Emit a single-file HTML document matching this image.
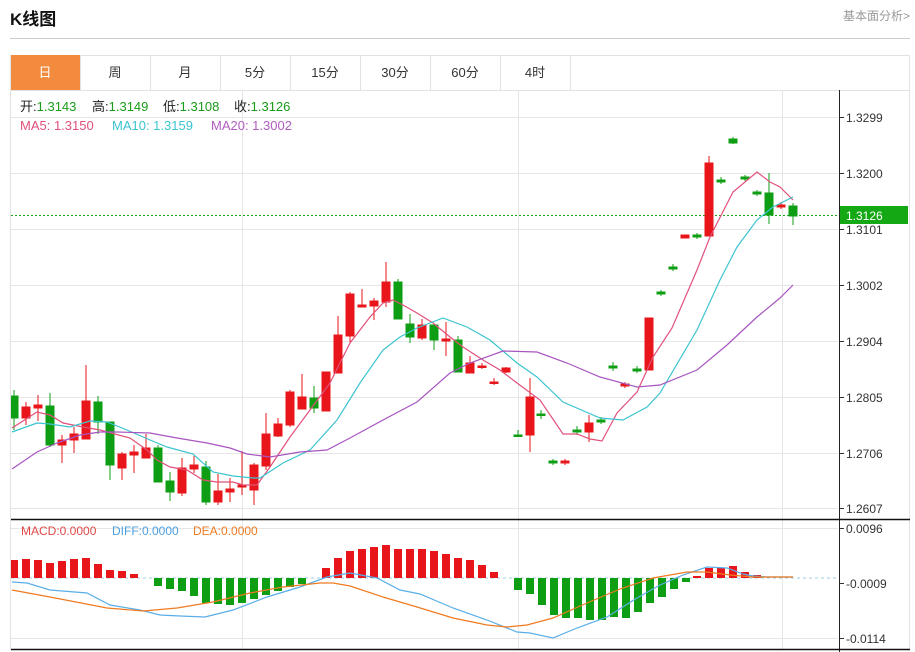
<!DOCTYPE html>
<html><head><meta charset="utf-8"><style>
body{margin:0;background:#fff;width:915px;height:652px;overflow:hidden;font-family:"Liberation Sans","Noto Sans CJK SC",sans-serif}
svg{position:absolute;left:0;top:0}
</style></head><body>
<svg width="915" height="652" viewBox="0 0 915 652" font-family="Liberation Sans, Noto Sans CJK SC, sans-serif">
<text x="10" y="25" font-size="17" font-weight="bold" fill="#111">K线图</text>
<text x="910" y="20" font-size="12" fill="#999" text-anchor="end">基本面分析&gt;</text>
<line x1="10" y1="38.5" x2="910" y2="38.5" stroke="#ccc"/>
<rect x="10.5" y="55.5" width="899" height="594" fill="none" stroke="#e2e2e2"/>
<rect x="11" y="55" width="69" height="35" fill="#f28b3d"/>
<g stroke="#e2e2e2"><line x1="10" y1="90.5" x2="910" y2="90.5"/>
<line x1="80.5" y1="55" x2="80.5" y2="90"/><line x1="150.5" y1="55" x2="150.5" y2="90"/><line x1="220.5" y1="55" x2="220.5" y2="90"/><line x1="290.5" y1="55" x2="290.5" y2="90"/><line x1="360.5" y1="55" x2="360.5" y2="90"/><line x1="430.5" y1="55" x2="430.5" y2="90"/><line x1="500.5" y1="55" x2="500.5" y2="90"/><line x1="570.5" y1="55" x2="570.5" y2="90"/></g>
<g font-size="13" text-anchor="middle" fill="#333">
<text x="45" y="77" fill="#fff">日</text><text x="115" y="77">周</text><text x="185" y="77">月</text><text x="255" y="77">5分</text><text x="325" y="77">15分</text><text x="395" y="77">30分</text><text x="465" y="77">60分</text><text x="535" y="77">4时</text></g>
<g stroke="#e6e6e6">
<line x1="11" y1="117.5" x2="838" y2="117.5"/><line x1="11" y1="173.5" x2="838" y2="173.5"/><line x1="11" y1="229.5" x2="838" y2="229.5"/><line x1="11" y1="285.5" x2="838" y2="285.5"/><line x1="11" y1="341.5" x2="838" y2="341.5"/><line x1="11" y1="397.5" x2="838" y2="397.5"/><line x1="11" y1="453.5" x2="838" y2="453.5"/><line x1="11" y1="508.5" x2="838" y2="508.5"/>
<line x1="11" y1="528.5" x2="838" y2="528.5"/><line x1="11" y1="638.5" x2="838" y2="638.5"/>
<line x1="242.5" y1="90" x2="242.5" y2="649"/><line x1="518.5" y1="90" x2="518.5" y2="649"/><line x1="782.5" y1="90" x2="782.5" y2="649"/>
</g>
<line x1="839.5" y1="90" x2="839.5" y2="652" stroke="#222"/>
<line x1="11" y1="519.5" x2="910" y2="519.5" stroke="#111" stroke-width="1.5"/>
<line x1="11" y1="649.5" x2="910" y2="649.5" stroke="#111" stroke-width="1.5"/>
<g font-size="12" fill="#333">
<g stroke="#333"><line x1="840" y1="117.5" x2="844" y2="117.5"/><line x1="840" y1="173.5" x2="844" y2="173.5"/><line x1="840" y1="229.5" x2="844" y2="229.5"/><line x1="840" y1="285.5" x2="844" y2="285.5"/><line x1="840" y1="341.5" x2="844" y2="341.5"/><line x1="840" y1="397.5" x2="844" y2="397.5"/><line x1="840" y1="453.5" x2="844" y2="453.5"/><line x1="840" y1="508.5" x2="844" y2="508.5"/><line x1="840" y1="528.5" x2="844" y2="528.5"/><line x1="840" y1="583.5" x2="844" y2="583.5"/><line x1="840" y1="638.5" x2="844" y2="638.5"/></g>
<text x="846" y="122">1.3299</text><text x="846" y="178">1.3200</text><text x="846" y="234">1.3101</text><text x="846" y="290">1.3002</text><text x="846" y="346">1.2904</text><text x="846" y="402">1.2805</text><text x="846" y="458">1.2706</text><text x="846" y="513">1.2607</text>
<text x="846" y="533">0.0096</text><text x="846" y="588">-0.0009</text><text x="846" y="643">-0.0114</text>
</g>
<line x1="11" y1="215.5" x2="838" y2="215.5" stroke="#1aa81a" stroke-dasharray="2,2"/>
<rect x="840" y="206" width="68" height="18" fill="#14a814"/>
<text x="846" y="220" font-size="12" fill="#fff">1.3126</text>
<g font-size="13">
<text x="20" y="111" fill="#222">开:<tspan fill="#1a9a1a">1.3143</tspan></text>
<text x="92" y="111" fill="#222">高:<tspan fill="#1a9a1a">1.3149</tspan></text>
<text x="163" y="111" fill="#222">低:<tspan fill="#1a9a1a">1.3108</tspan></text>
<text x="234" y="111" fill="#222">收:<tspan fill="#1a9a1a">1.3126</tspan></text>
<text x="20" y="130" fill="#e0507a">MA5: 1.3150</text>
<text x="112" y="130" fill="#3cc4d0">MA10: 1.3159</text>
<text x="211" y="130" fill="#b05cc0">MA20: 1.3002</text>
</g>
<g font-size="12">
<text x="21" y="535" fill="#e04848">MACD:0.0000</text>
<text x="112" y="535" fill="#4a9ee0">DIFF:0.0000</text>
<text x="193" y="535" fill="#f07a20">DEA:0.0000</text>
</g>
<defs><clipPath id="c"><rect x="11" y="90" width="828" height="560"/></clipPath></defs>
<g clip-path="url(#c)">
<g stroke-width="1">
<g fill="#0e9e14" stroke="#0e9e14">
<line x1="14" y1="390" x2="14" y2="430"/><rect x="10" y="396" width="8" height="22"/>
<line x1="50" y1="393" x2="50" y2="447"/><rect x="46" y="406" width="8" height="39"/>
<line x1="98" y1="396" x2="98" y2="434"/><rect x="94" y="402" width="8" height="20"/>
<line x1="110" y1="422" x2="110" y2="480"/><rect x="106" y="422" width="8" height="43"/>
<line x1="158" y1="445" x2="158" y2="482"/><rect x="154" y="448" width="8" height="34"/>
<line x1="170" y1="472" x2="170" y2="501"/><rect x="166" y="481" width="8" height="11"/>
<line x1="206" y1="461" x2="206" y2="505"/><rect x="202" y="467" width="8" height="35"/>
<line x1="314" y1="386" x2="314" y2="413"/><rect x="310" y="398" width="8" height="10"/>
<line x1="398" y1="279" x2="398" y2="319"/><rect x="394" y="282" width="8" height="37"/>
<line x1="410" y1="314" x2="410" y2="343"/><rect x="406" y="324" width="8" height="13"/>
<line x1="434" y1="325" x2="434" y2="350"/><rect x="430" y="325" width="8" height="15"/>
<line x1="458" y1="336" x2="458" y2="372"/><rect x="454" y="340" width="8" height="32"/>
<line x1="518" y1="430" x2="518" y2="437"/><rect x="514" y="435" width="8" height="1.5"/>
<line x1="541" y1="410" x2="541" y2="419"/><rect x="537" y="414" width="8" height="1.5"/>
<line x1="553" y1="459" x2="553" y2="465"/><rect x="549" y="461" width="8" height="2"/>
<line x1="577" y1="426" x2="577" y2="435"/><rect x="573" y="430" width="8" height="2"/>
<line x1="601" y1="417" x2="601" y2="424"/><rect x="597" y="420" width="8" height="2"/>
<line x1="613" y1="362" x2="613" y2="371"/><rect x="609" y="366" width="8" height="2"/>
<line x1="637" y1="366" x2="637" y2="373"/><rect x="633" y="369" width="8" height="2"/>
<line x1="661" y1="290" x2="661" y2="296"/><rect x="657" y="292" width="8" height="2"/>
<line x1="673" y1="264" x2="673" y2="271"/><rect x="669" y="267" width="8" height="2"/>
<line x1="697" y1="233" x2="697" y2="239"/><rect x="693" y="235" width="8" height="2"/>
<line x1="721" y1="177" x2="721" y2="184"/><rect x="717" y="180" width="8" height="2"/>
<line x1="733" y1="137" x2="733" y2="144"/><rect x="729" y="139" width="8" height="4"/>
<line x1="745" y1="175" x2="745" y2="181"/><rect x="741" y="177" width="8" height="2"/>
<line x1="757" y1="190" x2="757" y2="196"/><rect x="753" y="192" width="8" height="2"/>
<line x1="769" y1="173" x2="769" y2="224"/><rect x="765" y="193" width="8" height="22"/>
<line x1="793" y1="203" x2="793" y2="225"/><rect x="789" y="206" width="8" height="10"/>
</g>
<g fill="#e8161a" stroke="#e8161a">
<line x1="26" y1="402" x2="26" y2="425"/><rect x="22" y="407" width="8" height="11"/>
<line x1="38" y1="395" x2="38" y2="421"/><rect x="34" y="405" width="8" height="3"/>
<line x1="62" y1="435" x2="62" y2="463"/><rect x="58" y="440" width="8" height="5"/>
<line x1="74" y1="427" x2="74" y2="453"/><rect x="70" y="434" width="8" height="6"/>
<line x1="86" y1="365" x2="86" y2="439"/><rect x="82" y="401" width="8" height="38"/>
<line x1="122" y1="452" x2="122" y2="480"/><rect x="118" y="454" width="8" height="14"/>
<line x1="134" y1="445" x2="134" y2="473"/><rect x="130" y="452" width="8" height="3"/>
<line x1="146" y1="434" x2="146" y2="458"/><rect x="142" y="448" width="8" height="10"/>
<line x1="182" y1="458" x2="182" y2="496"/><rect x="178" y="468" width="8" height="25"/>
<line x1="194" y1="456" x2="194" y2="473"/><rect x="190" y="465" width="8" height="4"/>
<line x1="218" y1="474" x2="218" y2="505"/><rect x="214" y="491" width="8" height="11"/>
<line x1="230" y1="478" x2="230" y2="502"/><rect x="226" y="489" width="8" height="3"/>
<line x1="242" y1="451" x2="242" y2="495"/><rect x="238" y="485" width="8" height="2"/>
<line x1="254" y1="463" x2="254" y2="505"/><rect x="250" y="465" width="8" height="25"/>
<line x1="266" y1="413" x2="266" y2="470"/><rect x="262" y="434" width="8" height="32"/>
<line x1="278" y1="418" x2="278" y2="437"/><rect x="274" y="424" width="8" height="12"/>
<line x1="290" y1="390" x2="290" y2="427"/><rect x="286" y="392" width="8" height="33"/>
<line x1="302" y1="374" x2="302" y2="409"/><rect x="298" y="397" width="8" height="12"/>
<line x1="326" y1="372" x2="326" y2="411"/><rect x="322" y="372" width="8" height="39"/>
<line x1="338" y1="316" x2="338" y2="373"/><rect x="334" y="335" width="8" height="38"/>
<line x1="350" y1="292" x2="350" y2="342"/><rect x="346" y="294" width="8" height="42"/>
<line x1="362" y1="289" x2="362" y2="307"/><rect x="358" y="305" width="8" height="2"/>
<line x1="374" y1="298" x2="374" y2="320"/><rect x="370" y="301" width="8" height="5"/>
<line x1="386" y1="262" x2="386" y2="307"/><rect x="382" y="282" width="8" height="20"/>
<line x1="422" y1="319" x2="422" y2="340"/><rect x="418" y="325" width="8" height="13"/>
<line x1="446" y1="322" x2="446" y2="356"/><rect x="442" y="339" width="8" height="2"/>
<line x1="470" y1="356" x2="470" y2="373"/><rect x="466" y="363" width="8" height="10"/>
<line x1="482" y1="363" x2="482" y2="369"/><rect x="478" y="366" width="8" height="1.5"/>
<line x1="494" y1="378" x2="494" y2="385"/><rect x="490" y="382" width="8" height="1.5"/>
<line x1="506" y1="367" x2="506" y2="373"/><rect x="502" y="368" width="8" height="4"/>
<line x1="530" y1="378" x2="530" y2="452"/><rect x="526" y="397" width="8" height="38"/>
<line x1="565" y1="459" x2="565" y2="465"/><rect x="561" y="461" width="8" height="2"/>
<line x1="589" y1="415" x2="589" y2="442"/><rect x="585" y="423" width="8" height="9"/>
<line x1="625" y1="382" x2="625" y2="388"/><rect x="621" y="384" width="8" height="2"/>
<rect x="645" y="318" width="8" height="52"/>
<rect x="681" y="235" width="8" height="3"/>
<line x1="709" y1="156" x2="709" y2="236"/><rect x="705" y="163" width="8" height="73"/>
<line x1="781" y1="202" x2="781" y2="209"/><rect x="777" y="205" width="8" height="2"/>
</g>
</g>
<g fill="none" stroke-width="1.2">
<polyline stroke="#e0507a" points="12,428 37,412 50,415 63,423 83,427 100,430 130,438 147,450 157,460 170,467 187,470 203,480 217,482 233,482 243,485 257,485 270,467 290,437 310,410 330,383 350,343 370,317 383,303 393,300 403,305 417,313 433,323 450,337 463,347 483,360 500,370 517,383 540,400 563,434 577,434 590,439 602,441 617,413 637,392 653,357 672,328 697,270 710,237 733,192 757,172 770,182 780,187 793,200"/>
<polyline stroke="#3cc4d0" points="12,432 37,423 50,424 70,427 90,421 107,422 127,430 150,440 167,447 193,454 213,472 233,476 253,478 260,478 283,463 310,450 337,420 360,383 383,350 400,337 417,328 443,318 467,327 490,340 517,363 537,377 563,402 600,418 623,420 647,407 660,393 697,330 720,280 737,247 757,220 773,207 793,197"/>
<polyline stroke="#a855c0" points="12,469 37,452 57,443 80,435 100,432 117,432 150,433 177,438 207,443 230,448 247,454 270,457 300,452 327,450 350,438 383,420 417,402 450,373 470,363 503,351 537,352 567,363 600,377 637,387 660,385 697,370 727,345 757,317 780,298 793,285"/>
</g>
<line x1="11" y1="578" x2="900" y2="578" stroke="#9ccfe0" stroke-dasharray="3,3"/>
<g fill="#e8161a">
<rect x="10" y="560" width="8" height="18"/><rect x="22" y="559" width="8" height="19"/><rect x="34" y="560" width="8" height="18"/><rect x="46" y="563" width="8" height="15"/><rect x="58" y="561" width="8" height="17"/><rect x="70" y="559" width="8" height="19"/><rect x="82" y="558" width="8" height="20"/><rect x="94" y="564" width="8" height="14"/><rect x="106" y="570" width="8" height="8"/><rect x="118" y="571" width="8" height="7"/><rect x="130" y="574" width="8" height="4"/>
<rect x="322" y="568" width="8" height="10"/><rect x="334" y="558" width="8" height="20"/><rect x="346" y="551" width="8" height="27"/><rect x="358" y="549" width="8" height="29"/><rect x="370" y="547" width="8" height="31"/><rect x="382" y="545" width="8" height="33"/><rect x="394" y="549" width="8" height="29"/><rect x="406" y="549" width="8" height="29"/><rect x="418" y="549" width="8" height="29"/><rect x="430" y="551" width="8" height="27"/><rect x="442" y="554" width="8" height="24"/><rect x="454" y="558" width="8" height="20"/><rect x="466" y="560" width="8" height="18"/><rect x="478" y="565" width="8" height="13"/><rect x="490" y="572" width="8" height="6"/>
<rect x="693" y="576" width="8" height="2"/><rect x="705" y="568" width="8" height="10"/><rect x="717" y="568" width="8" height="10"/><rect x="729" y="566" width="8" height="12"/><rect x="741" y="572" width="8" height="6"/><rect x="753" y="575" width="8" height="3"/>
</g>
<g fill="#0e9e14">
<rect x="154" y="578" width="8" height="8"/><rect x="166" y="578" width="8" height="11"/><rect x="178" y="578" width="8" height="13"/><rect x="190" y="578" width="8" height="18"/><rect x="202" y="578" width="8" height="25"/><rect x="214" y="578" width="8" height="26"/><rect x="226" y="578" width="8" height="27"/><rect x="238" y="578" width="8" height="25"/><rect x="250" y="578" width="8" height="21"/><rect x="262" y="578" width="8" height="17"/><rect x="274" y="578" width="8" height="13"/><rect x="286" y="578" width="8" height="9"/><rect x="298" y="578" width="8" height="6"/>
<rect x="514" y="578" width="8" height="12"/><rect x="526" y="578" width="8" height="16"/><rect x="538" y="578" width="8" height="27"/><rect x="550" y="578" width="8" height="37"/><rect x="562" y="578" width="8" height="40"/><rect x="574" y="578" width="8" height="40"/><rect x="586" y="578" width="8" height="42"/><rect x="598" y="578" width="8" height="42"/><rect x="610" y="578" width="8" height="39"/><rect x="622" y="578" width="8" height="40"/><rect x="634" y="578" width="8" height="34"/><rect x="646" y="578" width="8" height="25"/><rect x="658" y="578" width="8" height="19"/><rect x="670" y="578" width="8" height="11"/><rect x="682" y="578" width="8" height="4"/>
</g>
<g fill="none" stroke-width="1.2">
<polyline stroke="#5aaee8" points="12,582 27,583 50,590 87,593 110,605 140,610 160,615 180,616 205,617 233,610 267,597 300,587 327,577 350,573 377,578 400,590 420,594 453,608 487,620 517,632 530,633 553,638 577,628 607,617 637,598 660,585 683,575 707,567 727,568 743,574 753,576 767,577 793,577"/>
<polyline stroke="#f07a20" points="12,590 50,597 107,608 143,611 177,608 213,602 250,593 283,587 320,583 333,583 350,586 383,597 417,607 453,618 487,625 507,627 527,625 553,618 587,603 620,589 653,578 687,572 707,572 730,575 753,577 793,577"/>
</g>
</g>
</svg>
</body></html>
